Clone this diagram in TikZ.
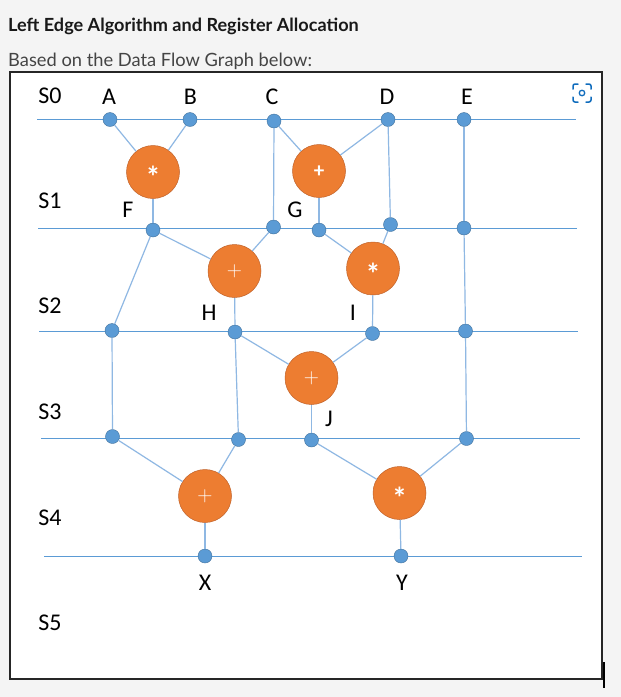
\documentclass[tikz,border=0pt]{standalone}
\usepackage{fontspec}
\setmainfont{Carlito}
\newfontfamily\latofont{Lato}
\newfontfamily\lmfont{Latin Modern Roman}
\definecolor{bgcol}{HTML}{F4F4F4}
\definecolor{stagecol}{HTML}{5B9BD5}
\definecolor{edgecol}{HTML}{8FB8E3}
\definecolor{dotfill}{HTML}{5B9BD5}
\definecolor{dotdraw}{HTML}{41719C}
\definecolor{opfill}{HTML}{ED7D31}
\definecolor{opdraw}{HTML}{C0622A}
\definecolor{iconcol}{HTML}{0F6CBD}
\definecolor{subcol}{HTML}{444444}
\newcommand\mulsym{\smash{\raisebox{-15.5pt}{\fontsize{30}{30}\selectfont\bfseries *}}}
\newcommand\addsym{\smash{\raisebox{-6.8pt}{\fontsize{21}{21}\selectfont\bfseries +}}}
\newcommand\addthin{\smash{\raisebox{-5.5pt}{\lmfont\fontsize{21}{21}\selectfont +}}}
\begin{document}
\begin{tikzpicture}[x=1pt,y=-1pt,
  dot/.style={circle,fill=dotfill,draw=dotdraw,line width=0.4pt,minimum size=14pt,inner sep=0pt},
  opnode/.style={circle,fill=opfill,draw=opdraw,line width=0.5pt,minimum size=53pt,inner sep=0pt,text=white},
  stage/.style={draw=stagecol,line width=0.9pt},
  edge/.style={draw=edgecol,line width=1.2pt},
  lbl/.style={font=\fontsize{24}{24}\selectfont,inner sep=0pt,text=black}]
\fill[bgcol] (0,0) rectangle (621,697);
\useasboundingbox (0,0) rectangle (621,697);
% texts
\node[anchor=base west,inner sep=0pt,font=\latofont\bfseries\fontsize{18.1}{20}\selectfont,text=black!90] (title) at (8,31) {Left Edge Algorithm and Register Allocation};
\node[anchor=base west,inner sep=0pt,font=\latofont\fontsize{18.3}{20}\selectfont,text=subcol] (sub) at (8,66) {Based on the Data Flow Graph below:};
% frame
\draw[fill=white,draw=black!85,line width=1.1pt] (10,72) rectangle (602,679);
\draw[black,line width=1.1pt] (604,662) -- (604,688);
% icon
\begin{scope}[iconcol,line width=1.5pt,rounded corners=2pt,line cap=round]
\draw (573,89) -- (573,84) -- (578,84);
\draw (586,84) -- (591,84) -- (591,89);
\draw (591,97) -- (591,102) -- (586,102);
\draw (578,102) -- (573,102) -- (573,97);
\end{scope}
\node[circle,draw=iconcol,line width=1.3pt,minimum size=5.5pt,inner sep=0pt] (iconc) at (582,93) {};
% stage lines
\coordinate (l0a) at (37,119.5); \coordinate (l0b) at (576,119.5);
\coordinate (l1a) at (38,228); \coordinate (l1b) at (577,228);
\coordinate (l2a) at (39,331); \coordinate (l2b) at (578,331);
\coordinate (l3a) at (41,438.5); \coordinate (l3b) at (580,438.5);
\coordinate (l4a) at (44,556); \coordinate (l4b) at (582,556);
\draw[stage] (l0a) -- (l0b);
\draw[stage] (l1a) -- (l1b);
\draw[stage] (l2a) -- (l2b);
\draw[stage] (l3a) -- (l3b);
\draw[stage] (l4a) -- (l4b);
% stage labels
\node[lbl] (s0) at (50,96) {S0};
\node[lbl] (s1) at (50,201) {S1};
\node[lbl] (s2) at (50,306) {S2};
\node[lbl] (s3) at (50,412) {S3};
\node[lbl] (s4) at (50,518) {S4};
\node[lbl] (s5) at (50,623) {S5};
% operation nodes
\node[opnode] (m1) at (153,172) {\mulsym};
\node[opnode] (p2) at (319,171) {\addsym};
\node[opnode] (p3) at (234.5,271) {\addthin};
\node[opnode] (m4) at (373,268.5) {\mulsym};
\node[opnode] (p5) at (311.5,378) {\addthin};
\node[opnode] (p6) at (205,496) {\addthin};
\node[opnode] (m7) at (399.5,493) {\mulsym};
% dots
\node[dot] (A) at (110,119.5) {};
\node[dot] (B) at (190,119.5) {};
\node[dot] (C) at (274,121) {};
\node[dot] (D) at (388,119.5) {};
\node[dot] (E) at (464,119.5) {};
\node[dot] (F) at (153,230) {};
\node[dot] (C1) at (273.5,227) {};
\node[dot] (G) at (319,230) {};
\node[dot] (D1) at (390.5,224.5) {};
\node[dot] (E1) at (464,228) {};
\node[dot] (F2) at (112,330.5) {};
\node[dot] (H) at (235,332) {};
\node[dot] (I) at (372.5,333.5) {};
\node[dot] (E2) at (465.5,331) {};
\node[dot] (F3) at (112.5,436.5) {};
\node[dot] (H3) at (238.5,439.5) {};
\node[dot] (J) at (311.5,440) {};
\node[dot] (E3) at (466.5,438.5) {};
\node[dot] (X) at (205,556) {};
\node[dot] (Y) at (401,556) {};
% edges
\draw[edge] (A) -- (m1);
\draw[edge] (B) -- (m1);
\draw[edge] (m1) -- (F);
\draw[edge] (C) -- (C1);
\draw[edge] (C) -- (p2);
\draw[edge] (D) -- (p2);
\draw[edge] (D) -- (D1);
\draw[edge] (p2) -- (G);
\draw[edge] (E) -- (E1);
\draw[edge] (E1) -- (E2);
\draw[edge] (E2) -- (E3);
\draw[edge] (F) -- (p3);
\draw[edge] (C1) -- (p3);
\draw[edge] (p3) -- (H);
\draw[edge] (G) -- (m4);
\draw[edge] (D1) -- (m4);
\draw[edge] (m4) -- (I);
\draw[edge] (F) -- (F2);
\draw[edge] (F2) -- (F3);
\draw[edge] (H) -- (p5);
\draw[edge] (I) -- (p5);
\draw[edge] (p5) -- (J);
\draw[edge] (H) -- (H3);
\draw[edge] (F3) -- (p6);
\draw[edge] (H3) -- (p6);
\draw[edge] (p6) -- (X);
\draw[edge] (J) -- (m7);
\draw[edge] (E3) -- (m7);
\draw[edge] (m7) -- (Y);
% value labels
\node[lbl] (tA) at (109,97) {A};
\node[lbl] (tB) at (190.5,97) {B};
\node[lbl] (tC) at (272,97) {C};
\node[lbl] (tD) at (387,97) {D};
\node[lbl] (tE) at (467,97) {E};
\node[lbl] (tF) at (128,210) {F};
\node[lbl] (tG) at (295,210) {G};
\node[lbl] (tH) at (209,313) {H};
\node[lbl] (tI) at (353,313) {I};
\node[lbl] (tJ) at (329,419) {J};
\node[lbl] (tX) at (205,583) {X};
\node[lbl] (tY) at (402,583) {Y};
\end{tikzpicture}
\end{document}
